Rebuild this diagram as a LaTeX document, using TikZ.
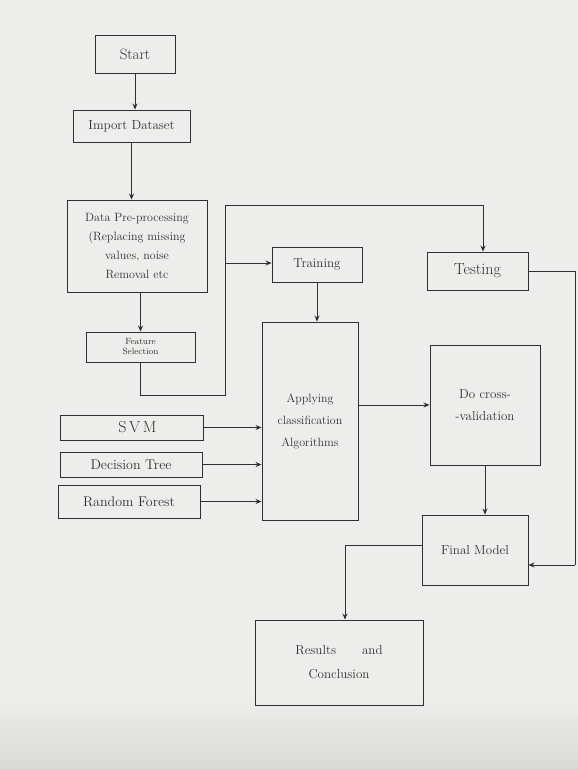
\documentclass[tikz,border=0pt]{standalone}
\usetikzlibrary{arrows.meta}
\definecolor{paper}{HTML}{EDEDEB}
\definecolor{paperdark}{HTML}{D9D9D7}
\definecolor{ink}{HTML}{303030}
\begin{document}
\begin{tikzpicture}[x=1pt,y=-1pt,
  box/.style={draw=ink,line width=0.9pt,text=ink,inner sep=1pt,align=center,font=\fontsize{13}{15}\selectfont},
  ln/.style={draw=ink,line width=0.8pt},
  arr/.style={draw=ink,line width=0.8pt,-{Stealth[length=6pt,width=5pt]}}]
\fill[paper] (0,0) rectangle (578,769);
\shade[top color=paper,bottom color=paperdark] (0,700) rectangle (578,769);
\useasboundingbox (0,0) rectangle (578,769);

\node[box,minimum width=80pt,minimum height=38pt,font=\fontsize{15}{17}\selectfont] (start) at (135,54) {Start};
\node[box,minimum width=117pt,minimum height=32pt] (import) at (131.5,126) {Import Dataset};
\node[box,minimum width=140pt,minimum height=92pt,font=\fontsize{12}{19}\selectfont] (prep) at (137,246)
  {Data Pre-processing\\(Replacing missing\\values, noise\\Removal etc};
\node[box,minimum width=109pt,minimum height=30pt,font=\fontsize{9}{10}\selectfont] (feat) at (140.5,347) {Feature\\Selection};
\node[box,minimum width=90pt,minimum height=35pt] (train) at (317,264.5) {Training};
\node[box,minimum width=101pt,minimum height=38pt,font=\fontsize{16}{18}\selectfont] (test) at (477.5,271) {Testing};
\node[box,minimum width=96pt,minimum height=198pt,font=\fontsize{12}{22}\selectfont] (apply) at (310,421) {Applying\\classification\\Algorithms};
\node[box,minimum width=143pt,minimum height=25pt,font=\fontsize{16}{18}\selectfont] (svm) at (131.5,427.5) {\hspace*{12pt}S\,V\,M};
\node[box,minimum width=142pt,minimum height=25pt,font=\fontsize{14}{16}\selectfont] (dt) at (131,464.5) {Decision Tree};
\node[box,minimum width=142pt,minimum height=33pt,font=\fontsize{14}{16}\selectfont] (rf) at (129,501.5) {Random Forest};
\node[box,minimum width=110pt,minimum height=120pt,font=\fontsize{13}{22}\selectfont] (cv) at (485,405) {Do cross-\\-validation};
\node[box,minimum width=106pt,minimum height=70pt] (final) at (475,550) {Final Model};
\node[box,minimum width=168pt,minimum height=85pt,font=\fontsize{13}{24}\selectfont] (res) at (339,662.5) {Results\quad\quad and\\Conclusion};

% main chain
\draw[arr] (start.south) -- (start.south |- import.north);
\draw[arr] (import.south) -- (import.south |- prep.north);
\draw[arr] (feat.north |- prep.south) -- (feat.north);

% feature selection to training / testing
\coordinate (f1) at (140.5,395);
\coordinate (f2) at (225,395);
\coordinate (f3) at (225,205);
\coordinate (f4) at (483,205);
\coordinate (fb) at (225,263);
\draw[ln] (feat.south) -- (f1) -- (f2) -- (f3) -- (f4);
\draw[arr] (f4) -- (f4 |- test.north);
\draw[arr] (fb) -- (fb -| train.west);

\draw[arr] (train.south) -- (train.south |- apply.north);

% classifiers
\draw[arr] (svm.east) -- (svm.east -| apply.west);
\draw[arr] (dt.east) -- (dt.east -| apply.west);
\draw[arr] (rf.east) -- (rf.east -| apply.west);

\draw[arr] (apply.east |- cv.west) -- (cv.west);
\draw[arr] (cv.south) -- (cv.south |- final.north);

% testing to final model
\coordinate (t1) at (575,271);
\coordinate (t2) at (575,565);
\draw[ln] (test.east) -- (t1) -- (t2);
\draw[arr] (t2) -- (t2 -| final.east);

% final model to results
\coordinate (r1) at (345,545);
\draw[ln] (final.west |- r1) -- (r1);
\draw[arr] (r1) -- (r1 |- res.north);
\end{tikzpicture}
\end{document}
